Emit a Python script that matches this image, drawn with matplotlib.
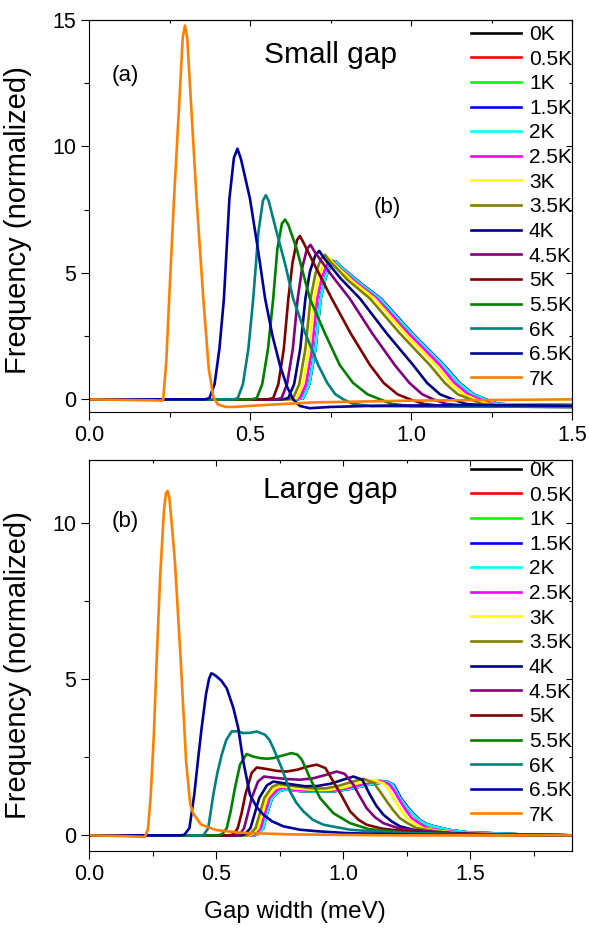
import matplotlib
matplotlib.use("Agg")
import matplotlib.pyplot as plt
from matplotlib.ticker import MultipleLocator

plt.rcParams['font.family'] = ['Liberation Sans', 'DejaVu Sans']

# temperatures and colours (legend order)
temps = ['0K', '0.5K', '1K', '1.5K', '2K', '2.5K', '3K', '3.5K',
         '4K', '4.5K', '5K', '5.5K', '6K', '6.5K', '7K']
colors = ['#000000', '#FF0000', '#00FF00', '#0000FF', '#00FFFF', '#FF00FF',
          '#FFFF00', '#808000', '#000080', '#800080', '#800000', '#008000',
          '#008080', '#0000A0', '#FF8000']

# ---- (a) small gap ----
small_0K_x = [0, 0.645, 0.665, 0.684, 0.703, 0.719, 0.735, 0.752, 0.766, 0.78, 0.84, 0.904, 1.002, 1.10, 1.148, 1.192, 1.23, 1.27, 1.335, 1.5]
small_0K_y = [0, 0, 0.05, 0.6, 2.0, 3.98, 4.85, 5.33, 5.45, 5.25, 4.6, 3.98, 2.6, 1.35, 0.65, 0.2, 0.0, -0.18, -0.22, -0.23]
small_0p5K_x = [0, 0.645, 0.665, 0.684, 0.703, 0.719, 0.735, 0.752, 0.766, 0.78, 0.84, 0.904, 1.002, 1.10, 1.148, 1.192, 1.23, 1.27, 1.335, 1.5]
small_0p5K_y = [0, 0, 0.05, 0.6, 2.0, 3.98, 4.85, 5.33, 5.45, 5.25, 4.6, 3.98, 2.6, 1.35, 0.65, 0.2, 0.0, -0.18, -0.22, -0.23]
small_1K_x = [0, 0.645, 0.665, 0.684, 0.703, 0.719, 0.735, 0.752, 0.766, 0.78, 0.84, 0.904, 1.002, 1.10, 1.148, 1.192, 1.23, 1.27, 1.335, 1.5]
small_1K_y = [0, 0, 0.05, 0.6, 2.0, 3.98, 4.85, 5.33, 5.45, 5.25, 4.6, 3.98, 2.6, 1.35, 0.65, 0.2, 0.0, -0.18, -0.22, -0.23]
small_1p5K_x = [0, 0.645, 0.665, 0.684, 0.703, 0.719, 0.735, 0.752, 0.766, 0.782, 0.843, 0.907, 1.005, 1.103, 1.151, 1.195, 1.233, 1.272, 1.335, 1.5]
small_1p5K_y = [0, 0, 0.05, 0.6, 2.0, 3.98, 4.85, 5.33, 5.45, 5.25, 4.6, 3.98, 2.6, 1.35, 0.65, 0.2, 0.0, -0.18, -0.22, -0.23]
small_2K_x = [0, 0.645, 0.665, 0.684, 0.703, 0.719, 0.735, 0.752, 0.766, 0.78, 0.84, 0.904, 1.002, 1.10, 1.148, 1.192, 1.23, 1.27, 1.335, 1.5]
small_2K_y = [0, 0, 0.05, 0.6, 2.0, 3.98, 4.85, 5.33, 5.45, 5.25, 4.6, 3.98, 2.6, 1.35, 0.65, 0.2, 0.0, -0.18, -0.22, -0.23]
small_2p5K_x = [0, 0.635, 0.655, 0.674, 0.693, 0.709, 0.724, 0.741, 0.755, 0.769, 0.83, 0.895, 0.993, 1.09, 1.135, 1.178, 1.215, 1.255, 1.32, 1.5]
small_2p5K_y = [0, 0, 0.05, 0.6, 2.0, 3.98, 4.85, 5.38, 5.5, 5.3, 4.62, 3.98, 2.6, 1.35, 0.65, 0.2, 0.0, -0.18, -0.22, -0.23]
small_3K_x = [0, 0.625, 0.645, 0.664, 0.683, 0.699, 0.714, 0.731, 0.745, 0.759, 0.82, 0.887, 0.982, 1.077, 1.122, 1.163, 1.20, 1.24, 1.30, 1.5]
small_3K_y = [0, 0, 0.05, 0.6, 2.0, 3.98, 4.9, 5.45, 5.6, 5.38, 4.65, 3.98, 2.6, 1.35, 0.65, 0.2, 0.0, -0.18, -0.22, -0.24]
small_3p5K_x = [0, 0.615, 0.634, 0.653, 0.672, 0.688, 0.703, 0.72, 0.733, 0.747, 0.805, 0.873, 0.966, 1.059, 1.105, 1.145, 1.185, 1.22, 1.29, 1.5]
small_3p5K_y = [0, 0, 0.05, 0.6, 2.0, 3.98, 4.95, 5.55, 5.72, 5.48, 4.7, 3.98, 2.6, 1.35, 0.65, 0.2, 0.0, -0.18, -0.23, -0.25]
small_4K_x = [0, 0.60, 0.619, 0.637, 0.656, 0.672, 0.686, 0.703, 0.715, 0.729, 0.78, 0.842, 0.925, 1.007, 1.05, 1.09, 1.13, 1.17, 1.24, 1.5]
small_4K_y = [0, 0, 0.05, 0.6, 2.0, 3.98, 5.05, 5.7, 5.87, 5.6, 4.8, 3.98, 2.6, 1.35, 0.65, 0.2, 0.0, -0.18, -0.25, -0.28]
small_4p5K_x = [0, 0.58, 0.598, 0.615, 0.633, 0.648, 0.662, 0.677, 0.688, 0.70, 0.748, 0.81, 0.88, 0.95, 0.995, 1.035, 1.069, 1.11, 1.17, 1.5]
small_4p5K_y = [0, 0, 0.05, 0.6, 2.0, 3.98, 5.2, 5.95, 6.11, 5.85, 5.0, 3.98, 2.6, 1.35, 0.65, 0.2, 0.0, -0.18, -0.25, -0.28]
small_5K_x = [0, 0.555, 0.572, 0.588, 0.605, 0.619, 0.632, 0.646, 0.655, 0.666, 0.705, 0.754, 0.813, 0.873, 0.915, 0.958, 0.997, 1.04, 1.1, 1.5]
small_5K_y = [0, 0, 0.05, 0.6, 2.0, 3.98, 5.4, 6.3, 6.46, 6.2, 5.2, 3.98, 2.6, 1.35, 0.65, 0.2, 0.0, -0.18, -0.27, -0.3]
small_5p5K_x = [0, 0.505, 0.521, 0.538, 0.556, 0.572, 0.585, 0.599, 0.609, 0.619, 0.645, 0.686, 0.733, 0.779, 0.82, 0.865, 0.904, 0.94, 1.0, 1.5]
small_5p5K_y = [0, 0, 0.05, 0.6, 2.0, 3.98, 5.95, 6.95, 7.11, 6.9, 5.95, 3.98, 2.6, 1.35, 0.65, 0.2, 0.0, -0.18, -0.27, -0.3]
small_6K_x = [0, 0.45, 0.462, 0.478, 0.495, 0.51, 0.526, 0.54, 0.549, 0.558, 0.583, 0.61, 0.634, 0.672, 0.712, 0.74, 0.765, 0.79, 0.82, 0.88, 1.2, 1.5]
small_6K_y = [0, 0, 0.05, 0.6, 2.0, 3.98, 6.6, 7.85, 8.07, 7.85, 6.6, 5.3, 3.98, 2.6, 1.35, 0.65, 0.2, 0.0, -0.18, -0.27, -0.28, -0.3]
small_6p5K_x = [0, 0.36, 0.374, 0.39, 0.405, 0.419, 0.436, 0.45, 0.461, 0.472, 0.50, 0.525, 0.547, 0.57, 0.593, 0.615, 0.634, 0.655, 0.685, 0.75, 0.9, 1.2, 1.5]
small_6p5K_y = [0, 0, 0.05, 0.6, 2.0, 3.98, 7.93, 9.55, 9.91, 9.5, 7.93, 5.9, 3.98, 2.5, 1.35, 0.5, 0.0, -0.26, -0.35, -0.3, -0.25, -0.23, -0.25]
small_7K_x = [0, 0.10, 0.20, 0.23, 0.24, 0.249, 0.264, 0.281, 0.291, 0.298, 0.305, 0.316, 0.334, 0.355, 0.372, 0.386, 0.40, 0.425, 0.45, 0.55, 0.70, 1.0, 1.5]
small_7K_y = [0, -0.02, -0.04, -0.05, 1.5, 3.98, 7.93, 11.88, 14.3, 14.78, 14.3, 11.88, 7.93, 3.98, 1.2, 0.1, -0.2, -0.3, -0.3, -0.22, -0.12, -0.05, 0.0]

# ---- (b) large gap ----
large_0K_x = [0, 0.65, 0.665, 0.685, 0.70, 0.72, 0.75, 0.77, 0.83, 0.90, 0.97, 1.02, 1.1, 1.171, 1.195, 1.223, 1.25, 1.276, 1.3, 1.325, 1.354, 1.42, 1.485, 1.7, 1.9]
large_0K_y = [0, 0, 0.05, 0.23, 0.7, 1.2, 1.42, 1.47, 1.42, 1.4, 1.42, 1.48, 1.62, 1.72, 1.62, 1.19, 0.9, 0.66, 0.48, 0.36, 0.29, 0.17, 0.1, 0.03, 0.0]
large_0p5K_x = [0, 0.65, 0.665, 0.685, 0.70, 0.72, 0.75, 0.77, 0.83, 0.90, 0.97, 1.02, 1.1, 1.171, 1.195, 1.223, 1.25, 1.276, 1.3, 1.325, 1.354, 1.42, 1.485, 1.7, 1.9]
large_0p5K_y = [0, 0, 0.05, 0.23, 0.7, 1.2, 1.42, 1.47, 1.42, 1.4, 1.42, 1.48, 1.62, 1.72, 1.62, 1.19, 0.9, 0.66, 0.48, 0.36, 0.29, 0.17, 0.1, 0.03, 0.0]
large_1K_x = [0, 0.65, 0.665, 0.685, 0.70, 0.72, 0.75, 0.77, 0.83, 0.90, 0.97, 1.02, 1.1, 1.171, 1.195, 1.223, 1.25, 1.276, 1.3, 1.325, 1.354, 1.42, 1.485, 1.7, 1.9]
large_1K_y = [0, 0, 0.05, 0.23, 0.7, 1.2, 1.42, 1.47, 1.42, 1.4, 1.42, 1.48, 1.62, 1.72, 1.62, 1.19, 0.9, 0.66, 0.48, 0.36, 0.29, 0.17, 0.1, 0.03, 0.0]
large_1p5K_x = [0, 0.65, 0.665, 0.685, 0.70, 0.72, 0.75, 0.77, 0.83, 0.90, 0.97, 1.02, 1.1, 1.174, 1.199, 1.227, 1.254, 1.28, 1.304, 1.329, 1.358, 1.42, 1.485, 1.7, 1.9]
large_1p5K_y = [0, 0, 0.05, 0.23, 0.7, 1.2, 1.42, 1.47, 1.42, 1.4, 1.42, 1.48, 1.62, 1.72, 1.62, 1.19, 0.9, 0.66, 0.48, 0.36, 0.29, 0.17, 0.1, 0.03, 0.0]
large_2K_x = [0, 0.65, 0.665, 0.685, 0.70, 0.72, 0.75, 0.77, 0.83, 0.90, 0.97, 1.02, 1.1, 1.171, 1.195, 1.223, 1.25, 1.276, 1.3, 1.325, 1.354, 1.42, 1.485, 1.7, 1.9]
large_2K_y = [0, 0, 0.05, 0.23, 0.7, 1.2, 1.42, 1.47, 1.42, 1.4, 1.42, 1.48, 1.62, 1.72, 1.62, 1.19, 0.9, 0.66, 0.48, 0.36, 0.29, 0.17, 0.1, 0.03, 0.0]
large_2p5K_x = [0, 0.64, 0.655, 0.675, 0.692, 0.71, 0.74, 0.762, 0.82, 0.90, 0.96, 1.01, 1.08, 1.145, 1.18, 1.2, 1.222, 1.247, 1.27, 1.3, 1.335, 1.40, 1.47, 1.67, 1.9]
large_2p5K_y = [0, 0, 0.05, 0.23, 0.7, 1.2, 1.45, 1.52, 1.45, 1.42, 1.43, 1.5, 1.64, 1.75, 1.64, 1.43, 1.12, 0.8, 0.55, 0.38, 0.22, 0.14, 0.08, 0.02, 0.0]
large_3K_x = [0, 0.63, 0.645, 0.665, 0.682, 0.70, 0.73, 0.755, 0.81, 0.90, 0.95, 1.0, 1.06, 1.12, 1.16, 1.18, 1.2, 1.225, 1.25, 1.28, 1.315, 1.38, 1.45, 1.65, 1.9]
large_3K_y = [0, 0, 0.05, 0.23, 0.7, 1.2, 1.5, 1.57, 1.5, 1.45, 1.46, 1.53, 1.67, 1.77, 1.66, 1.45, 1.15, 0.82, 0.55, 0.38, 0.22, 0.14, 0.08, 0.02, 0.0]
large_3p5K_x = [0, 0.62, 0.635, 0.655, 0.672, 0.69, 0.72, 0.745, 0.80, 0.88, 0.93, 0.98, 1.03, 1.079, 1.12, 1.145, 1.171, 1.197, 1.223, 1.255, 1.289, 1.35, 1.42, 1.6, 1.9]
large_3p5K_y = [0, 0, 0.05, 0.23, 0.7, 1.2, 1.55, 1.64, 1.58, 1.5, 1.5, 1.58, 1.7, 1.81, 1.68, 1.4, 1.09, 0.8, 0.55, 0.38, 0.23, 0.15, 0.08, 0.02, 0.0]
large_4K_x = [0, 0.60, 0.615, 0.635, 0.652, 0.67, 0.70, 0.725, 0.78, 0.85, 0.90, 0.95, 1.0, 1.04, 1.075, 1.105, 1.13, 1.158, 1.19, 1.223, 1.28, 1.354, 1.55, 1.9]
large_4K_y = [0, 0, 0.05, 0.23, 0.7, 1.2, 1.6, 1.72, 1.65, 1.57, 1.58, 1.65, 1.78, 1.88, 1.78, 1.3, 0.95, 0.66, 0.45, 0.29, 0.17, 0.1, 0.03, 0.0]
large_4p5K_x = [0, 0.58, 0.595, 0.61, 0.625, 0.64, 0.665, 0.688, 0.73, 0.78, 0.83, 0.88, 0.93, 0.974, 1.005, 1.04, 1.065, 1.092, 1.125, 1.158, 1.22, 1.29, 1.45, 1.9]
large_4p5K_y = [0, 0, 0.05, 0.23, 0.7, 1.2, 1.72, 1.88, 1.84, 1.8, 1.78, 1.82, 1.93, 2.04, 1.97, 1.62, 1.25, 0.87, 0.58, 0.39, 0.22, 0.15, 0.05, 0.0]
large_5K_x = [0, 0.555, 0.57, 0.585, 0.60, 0.615, 0.64, 0.66, 0.70, 0.74, 0.778, 0.82, 0.86, 0.896, 0.93, 0.961, 0.995, 1.027, 1.06, 1.092, 1.15, 1.22, 1.4, 1.9]
large_5K_y = [0, 0, 0.05, 0.23, 0.7, 1.3, 2.0, 2.17, 2.12, 2.06, 2.04, 2.1, 2.2, 2.26, 2.15, 1.72, 1.25, 0.77, 0.5, 0.34, 0.22, 0.15, 0.05, 0.0]
large_5p5K_x = [0, 0.509, 0.525, 0.542, 0.558, 0.574, 0.594, 0.62, 0.645, 0.673, 0.70, 0.725, 0.76, 0.797, 0.82, 0.837, 0.855, 0.869, 0.909, 0.961, 1.027, 1.1, 1.25, 1.5, 1.9]
large_5p5K_y = [0, 0, 0.05, 0.23, 0.8, 1.51, 2.26, 2.6, 2.52, 2.47, 2.45, 2.47, 2.55, 2.63, 2.58, 2.42, 2.1, 1.83, 1.19, 0.71, 0.39, 0.2, 0.08, 0.02, 0.0]
large_6K_x = [0, 0.45, 0.469, 0.489, 0.505, 0.522, 0.54, 0.561, 0.585, 0.605, 0.635, 0.66, 0.692, 0.71, 0.725, 0.758, 0.791, 0.815, 0.843, 0.88, 0.922, 1.027, 1.2, 1.5, 1.9]
large_6K_y = [0, 0, 0.23, 1.3, 2.0, 2.58, 3.05, 3.32, 3.33, 3.27, 3.28, 3.32, 3.22, 3.05, 2.79, 2.15, 1.4, 1.05, 0.77, 0.5, 0.34, 0.18, 0.08, 0.03, 0.0]
large_6p5K_x = [0, 0.36, 0.375, 0.395, 0.414, 0.43, 0.443, 0.46, 0.472, 0.481, 0.49, 0.502, 0.52, 0.542, 0.568, 0.587, 0.607, 0.633, 0.66, 0.686, 0.72, 0.764, 0.83, 0.9, 1.02, 1.3, 1.9]
large_6p5K_y = [0, 0, 0.02, 0.23, 1.3, 2.5, 3.43, 4.5, 5.0, 5.18, 5.15, 5.08, 4.95, 4.7, 4.07, 3.43, 2.36, 1.3, 0.9, 0.66, 0.45, 0.29, 0.18, 0.13, 0.07, 0.02, 0.0]
large_7K_x = [0, 0.12, 0.22, 0.232, 0.243, 0.255, 0.266, 0.28, 0.295, 0.303, 0.309, 0.316, 0.325, 0.338, 0.361, 0.382, 0.398, 0.41, 0.44, 0.50, 0.60, 0.80, 1.2, 1.9]
large_7K_y = [0, -0.02, -0.05, 0.2, 1.3, 3.2, 5.56, 8.3, 10.4, 10.95, 11.01, 10.8, 10.0, 8.75, 5.56, 2.36, 1.0, 0.7, 0.35, 0.17, 0.08, 0.03, 0.0, 0.0]

small_series = [(small_0K_x, small_0K_y), (small_0p5K_x, small_0p5K_y), (small_1K_x, small_1K_y),
                (small_1p5K_x, small_1p5K_y), (small_2K_x, small_2K_y), (small_2p5K_x, small_2p5K_y),
                (small_3K_x, small_3K_y), (small_3p5K_x, small_3p5K_y), (small_4K_x, small_4K_y),
                (small_4p5K_x, small_4p5K_y), (small_5K_x, small_5K_y), (small_5p5K_x, small_5p5K_y),
                (small_6K_x, small_6K_y), (small_6p5K_x, small_6p5K_y), (small_7K_x, small_7K_y)]
large_series = [(large_0K_x, large_0K_y), (large_0p5K_x, large_0p5K_y), (large_1K_x, large_1K_y),
                (large_1p5K_x, large_1p5K_y), (large_2K_x, large_2K_y), (large_2p5K_x, large_2p5K_y),
                (large_3K_x, large_3K_y), (large_3p5K_x, large_3p5K_y), (large_4K_x, large_4K_y),
                (large_4p5K_x, large_4p5K_y), (large_5K_x, large_5K_y), (large_5p5K_x, large_5p5K_y),
                (large_6K_x, large_6K_y), (large_6p5K_x, large_6p5K_y), (large_7K_x, large_7K_y)]

W, H = 589, 931
fig = plt.figure(figsize=(W / 100, H / 100), dpi=100)

ax1 = fig.add_axes([89 / W, 1 - 412 / H, 483 / W, 392 / H])
ax2 = fig.add_axes([89 / W, 1 - 851 / H, 483 / W, 391 / H])


def style_axes(ax, xmax, ymax):
    ax.set_xlim(0, xmax)
    ax.set_ylim(-0.5, ymax)
    ax.xaxis.set_major_locator(MultipleLocator(0.5))
    ax.xaxis.set_minor_locator(MultipleLocator(0.25))
    ax.yaxis.set_major_locator(MultipleLocator(5))
    ax.yaxis.set_minor_locator(MultipleLocator(2.5))
    ax.xaxis.set_major_formatter(plt.FormatStrFormatter('%.1f'))
    ax.tick_params(which='major', direction='out', length=6, width=0.8, labelsize=15.5, pad=3)
    ax.tick_params(which='minor', direction='out', length=3.8, width=0.8)
    for sp in ax.spines.values():
        sp.set_linewidth(0.8)
    # mirrored ticks pointing inwards on top and right
    top = ax.secondary_xaxis('top')
    top.xaxis.set_major_locator(MultipleLocator(0.5))
    top.xaxis.set_minor_locator(MultipleLocator(0.25))
    top.tick_params(which='major', direction='in', length=4, width=0.8, labeltop=False)
    top.tick_params(which='minor', direction='in', length=2.5, width=0.8)
    top.spines['top'].set_linewidth(0.8)
    right = ax.secondary_yaxis('right')
    right.yaxis.set_major_locator(MultipleLocator(5))
    right.yaxis.set_minor_locator(MultipleLocator(2.5))
    right.tick_params(which='major', direction='in', length=4, width=0.8, labelright=False)
    right.tick_params(which='minor', direction='in', length=2.5, width=0.8)
    right.spines['right'].set_linewidth(0.8)


for ax, series, xmax, ymax in [(ax1, small_series, 1.5, 15), (ax2, large_series, 1.9, 12)]:
    for (xs, ys), c, lab in zip(series, colors, temps):
        ax.plot(xs, ys, color=c, lw=1.9, label=lab, solid_joinstyle='round')
    style_axes(ax, xmax, ymax)
    ax.set_ylabel('Frequency (normalized)', fontsize=21)

ax1.yaxis.set_label_coords(-0.118, 0.49)
ax2.yaxis.set_label_coords(-0.118, 0.475)

leg_kw = dict(loc='upper left', frameon=False, fontsize=15, borderpad=0, borderaxespad=0,
              handlelength=2.4, handletextpad=0.38, labelspacing=0.27,
              bbox_transform=fig.transFigure)
ax1.legend(bbox_to_anchor=(471 / W, 1 - 25 / H), **leg_kw)
ax2.legend(bbox_to_anchor=(471 / W, 1 - 461 / H), **leg_kw)

# panel annotations
ax1.text(125 / W, 1 - 75 / H, '(a)', transform=fig.transFigure, fontsize=16, ha='center', va='center')
ax1.text(331 / W, 1 - 55 / H, 'Small gap', transform=fig.transFigure, fontsize=21.5, ha='center', va='center')
ax1.text(387 / W, 1 - 208 / H, '(b)', transform=fig.transFigure, fontsize=16, ha='center', va='center')
ax2.text(125 / W, 1 - 521 / H, '(b)', transform=fig.transFigure, fontsize=16, ha='center', va='center')
ax2.text(330 / W, 1 - 490 / H, 'Large gap', transform=fig.transFigure, fontsize=21.5, ha='center', va='center')

fig.text(295 / W, 1 - 912 / H, 'Gap width (meV)', fontsize=17.5, ha='center', va='center')

fig.savefig('out.png', dpi=100)
